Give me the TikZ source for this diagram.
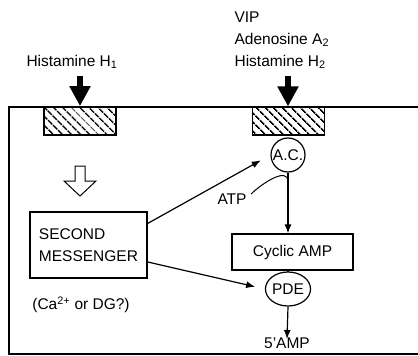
\documentclass[tikz,border=0pt]{standalone}
\usepackage{fontspec}
\setmainfont{Liberation Sans}
\usetikzlibrary{arrows.meta,patterns.meta,shapes.geometric}
\begin{document}
\begin{tikzpicture}[x=1pt,y=-1pt,line width=1.2pt,
  lbl/.style={font=\fontsize{15.5}{22}\selectfont,inner sep=1pt},
  receptor/.style={draw,fill=white,pattern={Lines[angle=-45,distance=6.5pt,line width=1.8pt]},minimum width=72pt,minimum height=28pt,inner sep=0pt},
  agonist/.style={line width=6pt,-{Triangle[length=20pt,width=20pt]}},
  enzyme/.style={draw,lbl,inner sep=0pt},
  link/.style={-{Latex[length=9pt,width=7pt]}}]
\useasboundingbox (0,0) rectangle (418,356);
% Cell
\draw (418,107) -- (9,107) -- (9,354) -- (418,354);
% Receptors
\node[receptor] (rone) at (80,121) {};
\node[receptor] (rtwo) at (288.5,121) {};
% Agonists
\node[lbl] (hone) at (72,62) {Histamine H\textsubscript{1}};
\node[lbl,anchor=west,align=left] (htwo) at (233,40) {VIP\\Adenosine A\textsubscript{2}\\Histamine H\textsubscript{2}};
\coordinate (tone) at (80,76);
\coordinate (ttwo) at (288,76);
\draw[agonist] (tone) -- (tone |- rone.north);
\draw[agonist] (ttwo) -- (ttwo |- rtwo.north);
% Hollow arrow
\draw[line width=1pt,line join=miter] (75,166) -- (85,166) -- (85,181) -- (96,181) -- (80,196) -- (64,181) -- (75,181) -- cycle;
% Second messenger
\node[draw,lbl,minimum width=117pt,minimum height=66pt,align=left] (msg) at (88.5,245) {SECOND\\MESSENGER};
\node[lbl] (ion) at (81,305) {(Ca\textsuperscript{2+} or DG?)};
% Enzymes
\node[enzyme,circle,minimum size=34pt] (ac) at (288,155) {A.C.};
\node[draw,lbl,minimum width=121pt,minimum height=36pt] (camp) at (292.5,252) {Cyclic AMP};
\node[enzyme,ellipse,minimum width=44pt,minimum height=34pt] (pde) at (288,289) {PDE};
\node[lbl] (atp) at (232,199) {ATP};
\node[lbl] (amp) at (287,343) {5'AMP};
% Connections
\draw[link,shorten >=11pt] (msg.20) -- (ac.180);
\draw[link,shorten >=10pt] (msg.-16) -- (pde.180);
\coordinate (join) at ([yshift=-9pt]ac.south);
\draw[link] (ac.south) -- (ac.south |- camp.north);
\draw[line width=1pt] ([xshift=3pt,yshift=-2pt]atp.north east) to[out=45,in=90] (join);
\draw (pde.north) -- (pde.north |- camp.south);
\draw[link] (pde.south) -- ([yshift=-3pt]amp.north);
\end{tikzpicture}
\end{document}
